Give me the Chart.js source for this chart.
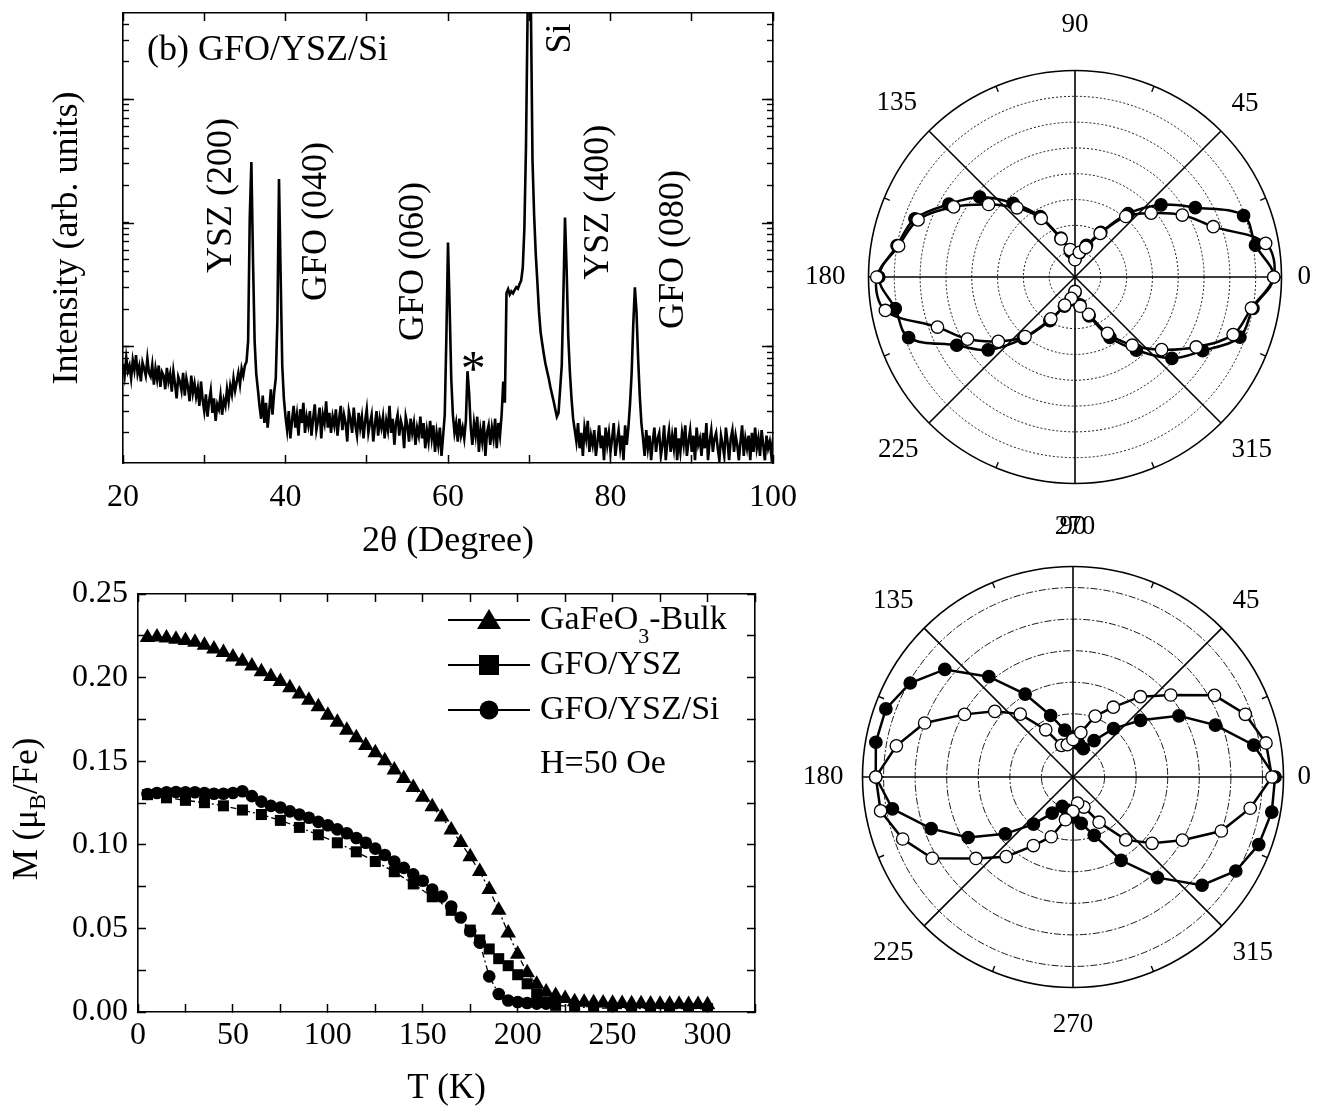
<!DOCTYPE html>
<html>
<head>
<meta charset="utf-8">
<script src="https://cdn.jsdelivr.net/npm/chart.js@4.4.1/dist/chart.umd.min.js"></script>
<style>
  body { margin: 0; background: #fff; width: 1328px; height: 1111px; position: relative; overflow: hidden; }
  .panel { position: absolute; }
</style>
</head>
<body>
<div class="panel" style="left:0;top:0;width:800px;height:560px"><canvas id="xrd"></canvas></div>
<div class="panel" style="left:0;top:560px;width:800px;height:551px"><canvas id="mt"></canvas></div>
<div class="panel" style="left:788px;top:6px;width:541px;height:541px"><canvas id="polarTop"></canvas></div>
<div class="panel" style="left:787px;top:506px;width:541px;height:541px"><canvas id="polarBottom"></canvas></div>
<script>
// ---- XRD pattern (2theta scan, 0.2 deg steps from 20 to 100) ----
const xrdStart = 20;
const xrdStep = 0.2;
const xrdIntensity = [
  72, 58, 81, 63, 70,   55, 77, 64, 85, 60,   69, 52, 74, 66, 58,   80, 61, 57, 71, 49,   // 20-23.8
  66, 54, 70, 47, 62,   58, 45, 67, 52, 60,   43, 63, 50, 38, 57,   52, 44, 61, 40, 55,   // 24-27.8
  47, 36, 58, 42, 50,   39, 46, 33, 52, 37,   30, 41, 27, 36, 44,   29, 38, 25, 34, 31,   // 28-31.8
  40, 28, 37, 33, 45,   36, 48, 41, 55, 44,   52, 61, 49, 66, 58,   70, 75, 110, 1100, 3100, // 32-35.8
  500, 110, 60, 45, 33,   26, 40, 24, 35, 22,   31, 45, 28, 42, 55,   160, 2250, 380, 70, 38, // 36-39.8
  27, 21, 30, 18, 25,   33, 22, 28, 19, 31,   24, 35, 20, 27, 23,   30, 19, 26, 34, 21,   // 40-43.8
  25, 32, 18, 28, 24,   36, 22, 29, 20, 27,   23, 31, 19, 26, 33,   21, 28, 24, 17, 30,   // 44-47.8
  26, 20, 32, 23, 19,   29, 22, 27, 18, 25,   31, 20, 24, 28, 17,   23, 30, 19, 26, 22,   // 48-51.8
  27, 18, 25, 21, 33,   20, 26, 16, 24, 28,   19, 25, 22, 15, 27,   23, 17, 26, 20, 24,   // 52-55.8
  16, 22, 19, 27, 18,   24, 15, 21, 17, 25,   18, 23, 14, 20, 16,   22, 13, 19, 28, 120,  // 56-59.8
  690, 210, 55, 28, 20,   24, 17, 26, 19, 22,   18, 25, 63, 42, 22,   16, 24, 19, 27, 14,  // 60-63.8
  21, 17, 25, 13, 20,   23, 16, 22, 18, 26,   15, 24, 19, 28, 52,   35, 270, 290, 262, 278, // 64-67.8
  268, 285, 300, 292, 318,   340, 430, 900, 4200, 52000,   300000, 58000, 3200, 1150, 560,   330, 190, 130, 105, 86, // 68-71.8
  72, 63, 55, 47, 41,   36, 31, 27, 29, 45,   70, 260, 1100, 420, 120,   62, 38, 26, 21, 17,   // 72-75.8
  24, 15, 20, 13, 22,   18, 25, 14, 19, 16,   21, 13, 17, 23, 15,   19, 12, 22, 16, 20,   // 76-79.8
  14, 18, 24, 13, 17,   21, 15, 19, 12, 23,   16, 22, 34, 60, 150,   300, 190, 80, 40, 24,   // 80-83.8
  18, 13, 21, 15, 19,   12, 17, 22, 14, 18,   20, 13, 16, 23, 12,   17, 21, 14, 19, 15,   // 84-87.8
  22, 12, 18, 14, 20,   16, 23, 13, 17, 21,   14, 19, 12, 22, 16,   18, 13, 20, 15, 24,   // 88-91.8
  12, 17, 21, 14, 18,   20, 15, 12, 19, 16,   13, 22, 17, 12, 18,   21, 14, 19, 16, 12,   // 92-95.8
  17, 23, 13, 18, 15,   19, 12, 20, 14, 22,   15, 18, 13, 21, 16,   12, 19, 15, 17, 13,   // 96-99.8
  18
];
const xrdTicksX = [20, 30, 40, 50, 60, 70, 80, 90, 100];
const xrdDecades = [10, 100, 1000, 10000];
const xrdMinorSteps = [1, 2, 3, 4, 5, 6, 7, 8, 9];
const xrdTitle = '(b) GFO/YSZ/Si';
const xrdTitlePos = [22.95, 24800];
const xrdPeakLabels = ['YSZ (200)', 'GFO (040)', 'GFO (060)', '*', 'Si', 'YSZ (400)', 'GFO (080)'];
const xrdPeakLabelX = [32.1, 43.8, 55.7, 63.1, 73.8, 78.5, 87.7];
const xrdPeakLabelY = [1660, 1020, 486, 62, 30900, 1460, 608];

// ---- M(T) curves ----
const bulkT = [5, 10, 15, 20, 25, 30, 35, 40, 45, 50, 55, 60, 65, 70, 75, 80, 85, 90, 95, 100,
  105, 110, 115, 120, 125, 130, 135, 140, 145, 150, 155, 160, 165, 170, 175, 180, 185, 190, 195, 200,
  205, 210, 215, 220, 225, 230, 235, 240, 245, 250, 255, 260, 265, 270, 275, 280, 285, 290, 295, 300];
const bulkM = [0.224, 0.2243, 0.2237, 0.2229, 0.2222, 0.2212, 0.2193, 0.2171, 0.215, 0.2123,
  0.2098, 0.207, 0.2035, 0.2006, 0.1977, 0.1939, 0.1902, 0.1864, 0.1825, 0.1775,
  0.1733, 0.1685, 0.164, 0.1594, 0.155, 0.1502, 0.1448, 0.1396, 0.1343, 0.1285,
  0.1227, 0.1166, 0.1089, 0.1014, 0.0928, 0.084, 0.0733, 0.0608, 0.0473, 0.0345,
  0.0235, 0.0166, 0.012, 0.0098, 0.0081, 0.0062, 0.0058, 0.0056, 0.0054, 0.0052,
  0.0051, 0.005, 0.0049, 0.0048, 0.0047, 0.0046, 0.0046, 0.0045, 0.0045, 0.0044];
const yszT = [5, 15, 25, 35, 45, 55, 65, 75, 85, 95, 105, 115, 125, 135, 145, 155, 165,
  175, 180, 185, 190, 195, 200, 205, 210, 215, 220, 230, 240, 250, 260, 270, 280, 290, 300];
const yszM = [0.13, 0.1281, 0.1266, 0.1252, 0.1233, 0.1208, 0.1181, 0.1146, 0.1104, 0.106, 0.1012, 0.0958, 0.09, 0.0839, 0.0766, 0.0689, 0.0608,
  0.049, 0.0431, 0.0377, 0.0319, 0.0277, 0.0223, 0.0169, 0.0108, 0.006, 0.004, 0.003, 0.0025, 0.0022, 0.002, 0.002, 0.002, 0.002, 0.002];
const siT = [5, 10, 15, 20, 25, 30, 35, 40, 45, 50, 55, 60, 65, 70, 75, 80, 85, 90, 95, 100,
  105, 110, 115, 120, 125, 130, 135, 140, 145, 150, 155, 160, 165, 170, 175, 180, 185, 190, 195, 200,
  205, 210, 215];
const siM = [0.1304, 0.131, 0.1314, 0.1316, 0.1314, 0.1314, 0.131, 0.1305, 0.1305, 0.131,
  0.132, 0.1291, 0.1258, 0.1233, 0.1223, 0.12, 0.1181, 0.1162, 0.1137, 0.1117,
  0.1092, 0.1069, 0.1041, 0.1012, 0.0977, 0.0939, 0.09, 0.0862, 0.0823, 0.0785,
  0.0733, 0.069, 0.0631, 0.0565, 0.0483, 0.0415, 0.0213, 0.0108, 0.0069, 0.006,
  0.0054, 0.005, 0.005];
const mtSeriesNames = ['GaFeO', 'GFO/YSZ', 'GFO/YSZ/Si'];
const mtFieldNote = 'H=50 Oe';

// ---- polar plots: angle (deg) and radius ----
const polarAngles = [0, 10, 20, 30, 40, 50, 60, 70, 80, 90, 100, 110, 120, 130, 140, 150, 160, 170,
  180, 190, 200, 210, 220, 230, 240, 250, 260, 270, 280, 290, 300, 310, 320, 330, 340, 350];
const topOpen = [7.7, 7.5, 5.7, 4.8, 3.85, 3.06, 1.95, 1.22, 0.97, 0.67, 1.08, 1.57, 2.62, 3.5, 4.37, 5.43, 6.47, 6.94,
  7.68, 7.46, 5.67, 4.81, 3.88, 3.01, 1.87, 1.16, 0.84, 0.56, 1.15, 1.54, 2.52, 3.45, 4.38, 5.42, 6.52, 6.94];
const topFilled = [7.7, 7.1, 6.95, 5.38, 4.35, 3.2, 2.0, 1.3, 0.95, 0.7, 1.0, 1.6, 2.7, 3.73, 4.82, 5.64, 6.6, 7.0,
  7.6, 7.07, 6.86, 5.29, 4.39, 3.1, 1.95, 1.2, 0.9, 0.6, 1.1, 1.6, 2.7, 3.7, 4.9, 5.71, 6.8, 7.0];
const bottomOpen = [0.945, 0.931, 0.871, 0.776, 0.606, 0.498, 0.383, 0.308, 0.214, 0.178, 0.156, 0.16, 0.259, 0.39, 0.485, 0.595, 0.75, 0.852,
  0.937, 0.928, 0.861, 0.772, 0.602, 0.494, 0.376, 0.302, 0.206, 0.163, 0.126, 0.152, 0.248, 0.39, 0.49, 0.6, 0.75, 0.855];
const bottomFilled = [0.96, 0.872, 0.72, 0.581, 0.419, 0.3, 0.2, 0.143, 0.16, 0.19, 0.226, 0.311, 0.455, 0.622, 0.795, 0.893, 0.946, 0.951,
  0.937, 0.871, 0.717, 0.575, 0.42, 0.292, 0.198, 0.149, 0.16, 0.19, 0.224, 0.295, 0.457, 0.624, 0.8, 0.893, 0.939, 0.959];
const topRings = [0, 1, 2, 3, 4, 5, 6, 7, 8];
const bottomRings = [0, 0.15, 0.3, 0.45, 0.6, 0.75, 0.9, 1];
const polarMinorTicks = [22.5, 67.5, 112.5, 157.5, 202.5, 247.5, 292.5, 337.5];

Chart.defaults.font.family = "'Liberation Serif', 'Times New Roman', serif";
Chart.defaults.color = '#000';
Chart.defaults.animation = false;

const FONT = "'Liberation Serif', 'Times New Roman', serif";
const inwardGrid = { drawOnChartArea: false, tickLength: -8, tickColor: '#000', tickWidth: 1.5 };
const logGrid = { drawOnChartArea: false, tickLength: -6, tickColor: '#000', tickWidth: 1.4 };
const frame = { color: '#000', width: 1.6 };

// XRD chart
const xrdPoints = xrdIntensity.map((v, i) => ({ x: +(xrdStart + i * xrdStep).toFixed(1), y: v }));
const logTicks = [];
xrdDecades.forEach(d => xrdMinorSteps.forEach(m => logTicks.push(d * m)));

const xrdText = {
  id: 'xrdText',
  afterDatasetsDraw(chart) {
    const { ctx, chartArea, scales: { x, y } } = chart;
    ctx.save();
    // longer ticks at each decade, both sides
    ctx.strokeStyle = '#000';
    ctx.lineWidth = 1.5;
    xrdDecades.forEach(d => {
      if (d < y.min || d > y.max) return;
      const py = Math.round(y.getPixelForValue(d)) + 0.5;
      ctx.beginPath();
      ctx.moveTo(chartArea.left, py); ctx.lineTo(chartArea.left + 11, py);
      ctx.moveTo(chartArea.right, py); ctx.lineTo(chartArea.right - 11, py);
      ctx.stroke();
    });
    ctx.fillStyle = '#000';
    ctx.font = '36px ' + FONT;
    ctx.textBaseline = 'middle';
    ctx.textAlign = 'left';
    ctx.fillText(xrdTitle, x.getPixelForValue(xrdTitlePos[0]), y.getPixelForValue(xrdTitlePos[1]));
    ctx.textAlign = 'center';
    xrdPeakLabels.forEach((t, i) => {
      ctx.save();
      ctx.translate(x.getPixelForValue(xrdPeakLabelX[i]), y.getPixelForValue(xrdPeakLabelY[i]));
      if (t !== '*') ctx.rotate(-Math.PI / 2);
      else ctx.font = '50px ' + FONT;
      ctx.fillText(t, 0, 0);
      ctx.restore();
    });
    ctx.restore();
  }
};

const setLogTicks = s => { s.ticks = logTicks.filter(v => v >= s.min && v <= s.max).map(v => ({ value: v })); };
const setXrdTicks = s => { s.ticks = xrdTicksX.map(v => ({ value: v })); };

new Chart(document.getElementById('xrd'), {
  type: 'line',
  data: { datasets: [{ data: xrdPoints, borderColor: '#000', borderWidth: 2.6, pointRadius: 0, tension: 0 }] },
  options: {
    responsive: true, maintainAspectRatio: false, devicePixelRatio: 1, events: [],
    layout: { padding: 0 },
    plugins: { legend: { display: false }, tooltip: { enabled: false } },
    scales: {
      x: {
        type: 'linear', position: 'bottom', min: 20, max: 100,
        afterBuildTicks: setXrdTicks,
        // tall line height pushes the labels down without adding side padding
        ticks: { autoSkip: false, maxRotation: 0, padding: 0, font: { size: 32, lineHeight: 2.64 }, callback: v => (v % 20 === 0 ? v : '') },
        grid: inwardGrid, border: frame,
        title: { display: true, text: '2θ (Degree)', font: { size: 36 }, padding: { top: 0, bottom: -3 } },
        afterFit: s => { s.height = 97; }
      },
      xTop: {
        type: 'linear', position: 'top', min: 20, max: 100,
        afterBuildTicks: setXrdTicks,
        ticks: { display: false }, grid: inwardGrid, border: frame,
        afterFit: s => { s.height = 13; }
      },
      y: {
        type: 'logarithmic', position: 'left', min: 11.4, max: 49600,
        afterBuildTicks: setLogTicks,
        ticks: { display: false }, grid: logGrid, border: frame,
        title: { display: true, text: 'Intensity (arb. units)', font: { size: 36 }, padding: { top: 46, bottom: 0 } },
        afterFit: s => { s.width = 123; }
      },
      yRight: {
        type: 'logarithmic', position: 'right', min: 11.4, max: 49600,
        afterBuildTicks: setLogTicks,
        ticks: { display: false }, grid: logGrid, border: frame,
        afterFit: s => { s.width = 27; }
      }
    }
  },
  plugins: [xrdText]
});

// M(T) chart
const toXY = (xs, ys) => xs.map((t, i) => ({ x: t, y: ys[i] }));
const mtDecor = {
  id: 'mtDecor',
  afterDraw(chart) {
    const { ctx, chartArea } = chart;
    ctx.save();
    ctx.fillStyle = '#000';
    ctx.strokeStyle = '#000';
    // y title with subscript
    ctx.translate(28, (chartArea.top + chartArea.bottom) / 2 + 6);
    ctx.rotate(-Math.PI / 2);
    ctx.textBaseline = 'middle';
    ctx.textAlign = 'left';
    const big = '35px ' + FONT, small = '24px ' + FONT;
    ctx.font = big; const w1 = ctx.measureText('M (μ').width;
    ctx.font = small; const w2 = ctx.measureText('B').width;
    ctx.font = big; const w3 = ctx.measureText('/Fe)').width;
    let x0 = -(w1 + w2 + w3) / 2;
    ctx.font = big; ctx.fillText('M (μ', x0, 0);
    ctx.font = small; ctx.fillText('B', x0 + w1, 11);
    ctx.font = big; ctx.fillText('/Fe)', x0 + w1 + w2, 0);
    ctx.restore();

    // legend
    ctx.save();
    ctx.fillStyle = '#000';
    ctx.strokeStyle = '#000';
    ctx.lineWidth = 2;
    const rows = [60, 105, 150];
    const markers = ['triangle', 'rect', 'circle'];
    rows.forEach((y, i) => {
      ctx.beginPath(); ctx.moveTo(448, y); ctx.lineTo(530, y); ctx.stroke();
      ctx.beginPath();
      if (markers[i] === 'triangle') { ctx.moveTo(489, y - 11); ctx.lineTo(501, y + 9); ctx.lineTo(477, y + 9); ctx.closePath(); }
      else if (markers[i] === 'rect') { ctx.rect(479, y - 10, 20, 20); }
      else { ctx.arc(489, y, 9.5, 0, Math.PI * 2); }
      ctx.fill();
    });
    ctx.textBaseline = 'middle';
    ctx.textAlign = 'left';
    ctx.font = '34px ' + FONT;
    ctx.fillText(mtSeriesNames[0], 540, rows[0]);
    let w = ctx.measureText(mtSeriesNames[0]).width;
    ctx.font = '22px ' + FONT;
    ctx.fillText('3', 540 + w, rows[0] + 17);
    const w3b = ctx.measureText('3').width;
    ctx.font = '34px ' + FONT;
    ctx.fillText('-Bulk', 540 + w + w3b, rows[0]);
    ctx.fillText(mtSeriesNames[1], 540, rows[1]);
    ctx.fillText(mtSeriesNames[2], 540, rows[2]);
    ctx.fillText(mtFieldNote, 540, 204);
    ctx.restore();
  }
};

const mtLine = { borderColor: '#000', backgroundColor: '#000', borderWidth: 1.3, borderDash: [6, 3, 2, 3], tension: 0, pointBorderWidth: 0 };
new Chart(document.getElementById('mt'), {
  type: 'line',
  data: {
    datasets: [
      { ...mtLine, data: toXY(siT, siM), pointStyle: 'circle', pointRadius: 6.3 },
      { ...mtLine, data: toXY(yszT, yszM), pointStyle: 'rect', pointRadius: 7.8 },
      { ...mtLine, data: toXY(bulkT, bulkM), pointStyle: 'triangle', pointRadius: 9 }
    ]
  },
  options: {
    responsive: true, maintainAspectRatio: false, devicePixelRatio: 1, events: [],
    layout: { padding: 0 },
    plugins: { legend: { display: false }, tooltip: { enabled: false } },
    scales: {
      x: {
        type: 'linear', position: 'bottom', min: 0, max: 325,
        ticks: { stepSize: 25, autoSkip: false, maxRotation: 0, padding: 12, font: { size: 32 }, callback: v => (v % 50 === 0 ? v : '') },
        grid: inwardGrid, border: frame,
        title: { display: true, text: 'T (K)', font: { size: 35 }, padding: { top: 0, bottom: 1 } },
        afterFit: s => { s.height = 99; }
      },
      xTop: {
        type: 'linear', position: 'top', min: 0, max: 325,
        ticks: { stepSize: 25, display: false }, grid: inwardGrid, border: frame,
        afterFit: s => { s.height = 17; }
      },
      y: {
        type: 'linear', position: 'left', min: 0, max: 0.25,
        ticks: { stepSize: 0.025, autoSkip: false, padding: 18, font: { size: 32, lineHeight: 1 }, callback: (v, i) => (i % 2 === 0 ? v.toFixed(2) : '') },
        grid: inwardGrid, border: frame,
        afterFit: s => { s.width = 138; }
      },
      yRight: {
        type: 'linear', position: 'right', min: 0, max: 0.25,
        ticks: { stepSize: 0.025, display: false }, grid: inwardGrid, border: frame,
        afterFit: s => { s.width = 45; }
      }
    }
  },
  plugins: [mtDecor]
});

// polar plots drawn as radar charts: 5 degree slots going clockwise from 0 on the right
const polarLabels = [];
for (let i = 0; i < 72; i++) polarLabels.push(String((360 - 5 * i) % 360));
const toSlots = vals => polarLabels.map(l => {
  const k = polarAngles.indexOf(+l);
  return k >= 0 ? vals[k] : null;
});

const outerTicks = {
  id: 'outerTicks',
  beforeDatasetsDraw(chart) {
    const s = chart.scales.r;
    const R = s.drawingArea;
    const ctx = chart.ctx;
    ctx.save();
    ctx.strokeStyle = '#000';
    ctx.lineWidth = 1.4;
    polarMinorTicks.forEach(a => {
      const t = a * Math.PI / 180;
      ctx.beginPath();
      ctx.moveTo(s.xCenter + R * Math.cos(t), s.yCenter - R * Math.sin(t));
      ctx.lineTo(s.xCenter + (R - 6) * Math.cos(t), s.yCenter - (R - 6) * Math.sin(t));
      ctx.stroke();
    });
    ctx.restore();
  }
};

function makePolar(id, filled, open, rings, dash, pads, tension) {
  const rMax = rings[rings.length - 1];
  const base = { showLine: true, fill: false, spanGaps: true, borderColor: '#000', borderWidth: 2.5, tension: tension,
    pointRadius: 6.2, pointBorderColor: '#000', pointBorderWidth: 1.3 };
  new Chart(document.getElementById(id), {
    type: 'radar',
    data: {
      labels: polarLabels,
      datasets: [
        { ...base, data: toSlots(open), pointBackgroundColor: '#fff' },
        { ...base, data: toSlots(filled), pointBackgroundColor: '#000' }
      ]
    },
    options: {
      responsive: true, maintainAspectRatio: false, devicePixelRatio: 1, events: [],
      layout: { padding: 0 },
      plugins: { legend: { display: false }, tooltip: { enabled: false } },
      scales: {
        r: {
          min: 0, max: rMax, startAngle: 90,
          afterBuildTicks: s => { s.ticks = rings.map(v => ({ value: v })); },
          ticks: { display: false },
          grid: { circular: true, color: '#000', lineWidth: c => (c.tick && c.tick.value === rMax ? 1.6 : 0.9) },
          border: { dash: c => (c.tick && c.tick.value === rMax ? [] : dash) },
          angleLines: { color: '#000', lineWidth: c => (c.index % 9 === 0 ? 1.6 : 0) },
          pointLabels: {
            font: { size: 27 }, color: '#000',
            padding: c => (pads[c.index] !== undefined ? pads[c.index] : 16),
            callback: (l, i) => (i % 9 === 0 ? l : '')
          }
        }
      }
    },
    plugins: [outerTicks]
  });
}

makePolar('polarTop', topFilled, topOpen, topRings, [2, 2],
  { 0: 16, 9: 15, 18: 27, 27: 15, 36: 23, 45: 17, 54: 29, 63: 15 }, 0.35);
makePolar('polarBottom', bottomFilled, bottomOpen, bottomRings, [7, 2, 2, 2],
  { 0: 14, 9: 15, 18: 21, 27: 15, 36: 19, 45: 15, 54: 23, 63: 15 }, 0);
</script>
</body>
</html>
